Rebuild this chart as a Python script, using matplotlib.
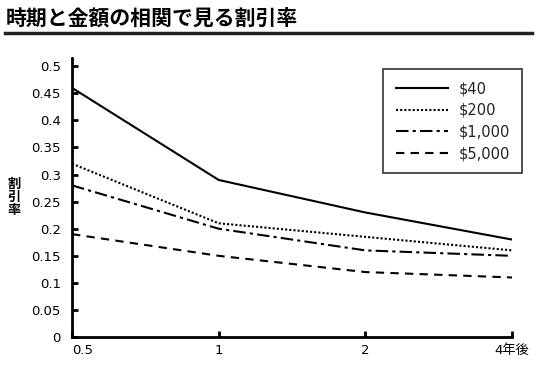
import matplotlib
matplotlib.use("Agg")
import matplotlib.pyplot as plt
from matplotlib.lines import Line2D

plt.rcParams['font.family'] = ['Noto Sans CJK JP', 'DejaVu Sans']
num_font = ['DejaVu Sans', 'Noto Sans CJK JP']

# data
periods = ["0.5", "1", "2", "4年後"]
amounts = ["$40", "$200", "$1,000", "$5,000"]
rate_40 = [0.46, 0.29, 0.23, 0.18]
rate_200 = [0.32, 0.21, 0.185, 0.16]
rate_1000 = [0.28, 0.20, 0.16, 0.15]
rate_5000 = [0.19, 0.15, 0.12, 0.11]
yticks = [0, 0.05, 0.1, 0.15, 0.2, 0.25, 0.3, 0.35, 0.4, 0.45, 0.5]

fig = plt.figure(figsize=(5.5, 3.7), dpi=100)
ax = fig.add_axes([0.131, 0.089, 0.80, 0.754])

x = list(range(len(periods)))
styles = ["-", (0, (1, 1)), (0, (6, 2, 1.5, 2)), (0, (4, 3))]
for vals, ls, name in zip([rate_40, rate_200, rate_1000, rate_5000], styles, amounts):
    ax.plot(x, vals, color="black", linestyle=ls, linewidth=1.5, label=name)

ax.set_xlim(0, 3)
ax.set_ylim(0, 0.515)
ax.set_xticks(x)
ax.set_xticklabels(periods, fontsize=9.5, family=num_font, color="#222222")
ax.get_xticklabels()[0].set_horizontalalignment("left")
ax.set_yticks(yticks)
ax.set_yticklabels([f"{v:g}" for v in yticks], fontsize=9.5, family=num_font, color="#222222")

for s in ["top", "right"]:
    ax.spines[s].set_visible(False)
for s in ["left", "bottom"]:
    ax.spines[s].set_linewidth(2)
ax.tick_params(axis="both", direction="in", width=2, length=4, colors="black")
ax.tick_params(axis="x", pad=5)
ax.tick_params(axis="y", pad=8)

leg = ax.legend(loc="upper right", bbox_to_anchor=(1.023, 0.961), borderaxespad=0,
                frameon=True, fancybox=False, prop={"family": num_font, "size": 10.5},
                handlelength=3.6, borderpad=0.85, labelspacing=0.45, handletextpad=0.7)
leg.get_frame().set_edgecolor("black")
leg.get_frame().set_linewidth(1.2)
for t in leg.get_texts():
    t.set_color("#222222")

fig.text(0.01, 0.952, "時期と金額の相関で見る割引率", fontsize=15, fontweight="bold",
         va="center", ha="left")
fig.add_artist(Line2D([0.009, 0.968], [0.91, 0.91], color="#222222", linewidth=2.5))

# vertical y label, one character per line
for i, ch in enumerate("割引率"):
    fig.text(0.026, 0.503 - i * 0.035, ch, fontsize=9.5, fontweight="bold",
             ha="center", va="center")

fig.savefig("out.png", dpi=100)
